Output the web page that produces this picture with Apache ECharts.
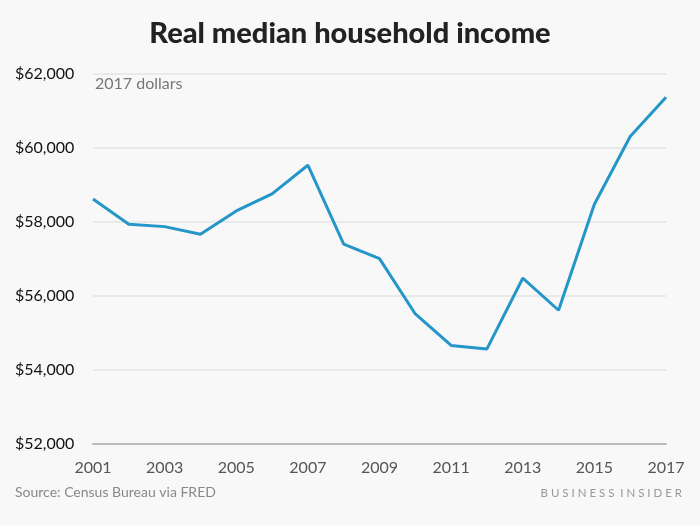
<!DOCTYPE html>
<html>
<head>
<meta charset="utf-8">
<script src="https://cdn.jsdelivr.net/npm/echarts@6/dist/echarts.min.js"></script>
<style>
html,body{margin:0;padding:0;background:#f8f8f8;}
#c{width:700px;height:525px;}
</style>
</head>
<body>
<div id="c"></div>
<script>
var years = ['2001','2002','2003','2004','2005','2006','2007','2008','2009','2010','2011','2012','2013','2014','2015','2016','2017'];
var income = [58620, 57940, 57875, 57670, 58300, 58760, 59535, 57405, 57010, 55515, 54665, 54570, 56480, 55615, 58480, 60310, 61372];
var yTicks = [52000, 54000, 56000, 58000, 60000, 62000];

var chart = echarts.init(document.getElementById('c'));
var font = 'Lato, "Open Sans", sans-serif';
chart.setOption({
  backgroundColor: '#f8f8f8',
  title: [{
    text: 'Real median household income',
    left: 'center', top: 14,
    textStyle: {fontFamily: font, fontSize: 29, fontWeight: 900, color: '#222'}
  }],
  graphic: [
    {type: 'text', left: 95, top: 76, style: {text: '2017 dollars', fontFamily: font, fontSize: 16, fill: '#777'}},
    {type: 'text', left: 15, top: 485, style: {text: 'Source: Census Bureau via FRED', fontFamily: font, fontSize: 14, fill: '#888'}},
    {type: 'text', right: 18, top: 487, style: {text: 'B U S I N E S S  I N S I D E R', fontFamily: font, fontSize: 11.5, fill: '#999'}}
  ],
  grid: {left: 93, right: 34, top: 74, bottom: 81},
  xAxis: {
    type: 'category', data: years, boundaryGap: false,
    axisLine: {lineStyle: {color: '#bbb', width: 2}},
    axisTick: {show: false},
    axisLabel: {interval: 1, color: '#555', fontFamily: font, fontSize: 16, margin: 16}
  },
  yAxis: {
    type: 'value', min: 52000, max: 62000, interval: 2000,
    axisLine: {show: false}, axisTick: {show: false},
    splitLine: {lineStyle: {color: '#e4e4e4', width: 1.5}},
    axisLabel: {
      align: 'left', margin: 78, color: '#111', fontFamily: font, fontSize: 16,
      formatter: function (v) { return '$' + v.toLocaleString('en-US'); }
    }
  },
  series: [{
    type: 'line', data: income, showSymbol: false, symbol: 'none',
    lineStyle: {color: '#2596c8', width: 3},
    animation: false
  }]
});
</script>
</body>
</html>
